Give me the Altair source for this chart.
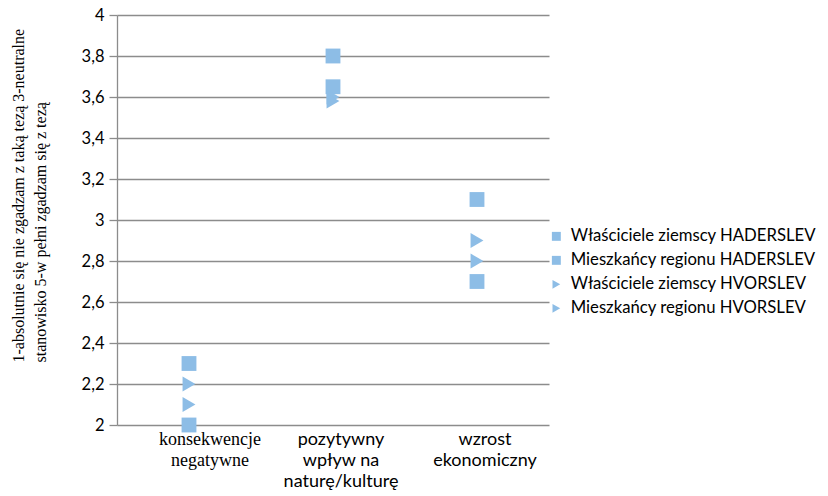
import altair as alt
import pandas as pd

categories = ["konsekwencje|negatywne", "pozytywny|wpływ na|naturę/kulturę", "wzrost|ekonomiczny"]
series = [
    "Właściciele ziemscy HADERSLEV",
    "Mieszkańcy regionu HADERSLEV",
    "Właściciele ziemscy HVORSLEV",
    "Mieszkańcy regionu HVORSLEV",
]
shapes = ["square", "square", "triangle-right", "triangle-right"]
values = {
    "Właściciele ziemscy HADERSLEV": [2.3, 3.8, 3.1],
    "Mieszkańcy regionu HADERSLEV": [2.0, 3.65, 2.7],
    "Właściciele ziemscy HVORSLEV": [2.2, 3.6, 2.9],
    "Mieszkańcy regionu HVORSLEV": [2.1, 3.58, 2.8],
}
y_ticks = [2, 2.2, 2.4, 2.6, 2.8, 3, 3.2, 3.4, 3.6, 3.8, 4]
y_title = ["1-absolutnie się nie zgadzam z taką tezą 3-neutralne",
           "stanowisko  5-w pełni zgadzam się z tezą"]

rows = []
for s in series:
    for c, v in zip(categories, values[s]):
        rows.append({"kat": c, "seria": s, "v": v})
df = pd.DataFrame(rows)
cat_df = pd.DataFrame({"kat": categories})

blue = "#8DBDE6"
grid = "#8C8C8C"

x_enc = alt.X("kat:N", sort=categories, scale=alt.Scale(padding=0.5),
              axis=alt.Axis(title=None, labels=False, domain=False, ticks=False))

points = alt.Chart(df).mark_point(filled=True, opacity=1, size=220).encode(
    x=x_enc,
    y=alt.Y("v:Q", scale=alt.Scale(domain=[2, 4], nice=False, zero=False),
            axis=alt.Axis(values=y_ticks, labelExpr="replace(format(datum.value, '.1~f'), '.', ',')",
                          title=y_title, titleFont="Liberation Serif", titleFontSize=16,
                          titleFontWeight="normal", titleColor="#000000",
                          titleAngle=270, titleAlign="left", titleBaseline="top",
                          titleLineHeight=22,
                          titleX=-107, titleY=347,
                          labelFont="Lato", labelFontSize=16.5, labelColor="#000000",
                          labelPadding=5, tickSize=8, tickColor=grid, domainColor=grid,
                          domainWidth=1.3, tickWidth=1.3, labelBaseline="middle",
                          grid=True, gridColor=grid, gridWidth=1.3)),
    color=alt.Color("seria:N", sort=series,
                    scale=alt.Scale(domain=series, range=[blue] * 4),
                    legend=alt.Legend(title=None, orient="none", legendX=431, legendY=213,
                                      labelFont="Lato", labelFontSize=16.7, labelColor="#000000",
                                      labelLimit=400,
                                      symbolSize=80, rowPadding=6, labelOffset=6,
                                      symbolStrokeWidth=0)),
    shape=alt.Shape("seria:N", sort=series,
                    scale=alt.Scale(domain=series, range=shapes), legend=alt.Legend(title=None)),
)

labels_serif = alt.Chart(cat_df).transform_filter(
    alt.datum.kat == categories[0]
).mark_text(font="Liberation Serif", fontSize=18, lineBreak="|", lineHeight=21,
            baseline="top", dx=21, color="#000000").encode(
    x=x_enc, y=alt.value(416), text="kat:N")

labels_sans = alt.Chart(cat_df).transform_filter(
    alt.datum.kat != categories[0]
).mark_text(font="Lato", fontSize=18, lineBreak="|", lineHeight=21,
            baseline="top", dx=8, color="#000000").encode(
    x=x_enc, y=alt.value(416), text="kat:N")

chart = alt.layer(points, labels_serif, labels_sans).properties(
    width=432, height=410,
    autosize=alt.AutoSizeParams(type="none"),
    padding={"left": 109, "top": 7, "right": 270, "bottom": 71},
).configure_view(stroke=None)

chart.save("out.html", embed_options={"renderer": "svg", "actions": False})
